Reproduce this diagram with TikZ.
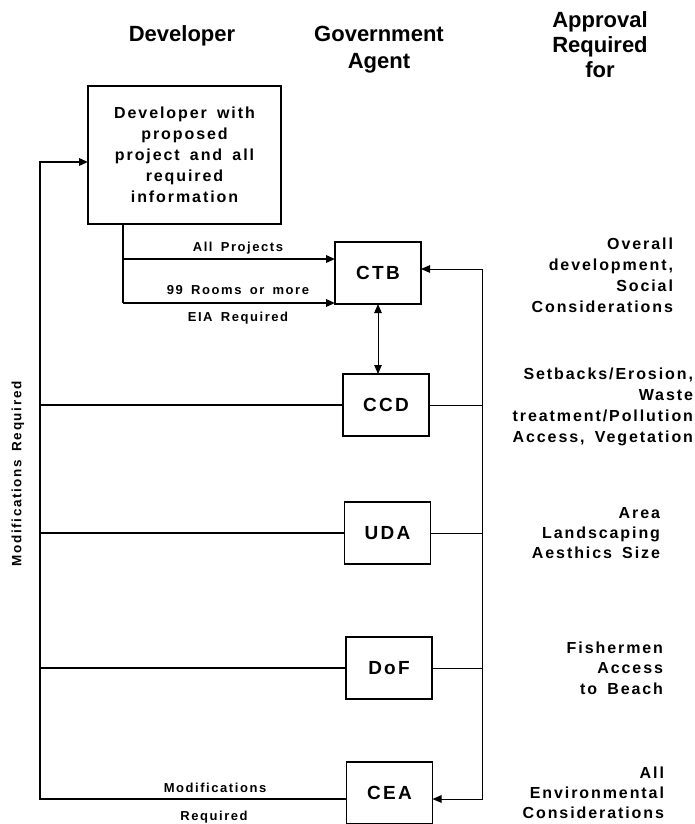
\documentclass[tikz,border=0pt]{standalone}
\usepackage{fontspec}
\setmainfont[LetterSpace=12, WordSpace=1.6]{Liberation Sans}
\newfontfamily\headfont{Liberation Sans}
\usetikzlibrary{positioning, arrows.meta}
\newcommand{\fsz}[2]{\fontsize{#1}{#2}\selectfont\bfseries}

\begin{document}
\begin{tikzpicture}[x=1pt, y=-1pt, node distance=70pt,
    every node/.style={font=\fsz{16}{21}, inner sep=0pt, outer sep=0pt},
    agentbox/.style={draw, line width=1.2pt, minimum width=86pt,
                     minimum height=62pt, font=\fsz{19}{21}},
    thickline/.style={line width=1.8pt},
    thinline/.style={line width=1pt},
    >={Triangle[length=9pt, width=7.5pt]}]
  \useasboundingbox (0,0) rectangle (694,824);
  % column headings
  \node[font=\headfont\fsz{22}{27}] (hdev) at (182,36) {Developer};
  \node[font=\headfont\fsz{22}{27}, align=center] (hgov) at (379,50)
    {Government\\Agent};
  \node[font=\headfont\fsz{22}{25}, align=center] (happr) at (600,45)
    {Approval\\Required\\for};
  % developer and agents
  \node[draw, line width=1.2pt, minimum width=193pt, minimum height=138pt,
        align=center] (dev) at (184.5,155)
    {Developer with\\proposed\\project and all\\required\\information};
  \node[agentbox, below right=18pt and 54pt of dev] (ctb) {CTB};
  \node[agentbox, below=70pt of ctb, xshift=8pt] (ccd) {CCD};
  \node[agentbox, below=66pt of ccd, xshift=1.5pt] (uda) {UDA};
  \node[agentbox, below=73pt of uda, xshift=1.5pt] (dof) {DoF};
  \node[agentbox, below=63pt of dof, xshift=0.5pt] (cea) {CEA};
  % approvals
  \node[anchor=east, align=right] (aprctb) at (673,275)
    {Overall\\development,\\Social\\Considerations};
  \node[anchor=east, align=right] (aprccd) at (693,407)
    {Setbacks/Erosion,\\Waste\\treatment/Pollution\\Access, Vegetation};
  \node[anchor=east, align=right, font=\fsz{16}{20}] (apruda) at (660,533)
    {Area\\Landscaping\\Aesthics Size};
  \node[anchor=east, align=right, font=\fsz{16}{20.5}] (aprdof) at (663,668)
    {Fishermen\\Access\\to Beach};
  \node[anchor=east, align=right, font=\fsz{16}{20}] (aprcea) at (664,793)
    {All\\Environmental\\Considerations};
  % developer to CTB
  \coordinate (fa) at (123,259);
  \coordinate (fb) at (123,303);
  \draw[thickline] (dev.south -| fa) -- (fb);
  \draw[thickline, ->] (fa) -- (fa -| ctb.west)
    node[midway, above=5pt, xshift=9pt, font=\fsz{13}{15}] (lall) {All Projects};
  \draw[thickline, ->] (fb) -- (fb -| ctb.west)
    node[midway, above=8pt, xshift=9pt, font=\fsz{13}{15}] (lrooms) {99 Rooms or more}
    node[midway, below=9pt, xshift=9pt, font=\fsz{13}{15}] (leia) {EIA Required};
  \draw[thinline, <->] (ctb.south) -- (ctb.south |- ccd.north);
  % modifications loop
  \coordinate (ltop) at (40,162);
  \coordinate (rbot) at (482,799);
  \draw[thickline, ->] ([yshift=-6pt]cea.west) -| (ltop) -- (ltop -| dev.west);
  \foreach \ag in {ccd, uda, dof} {
    \draw[thickline] (\ag.west) -- (\ag.west -| ltop);
    \draw[thinline] (\ag.east) -- (\ag.east -| rbot);
  }
  \draw[thinline, <->] ([yshift=4pt]ctb.east) -| (rbot) -- ([yshift=-6pt]cea.east);
  \node[font=\fsz{13}{15}] (lmod) at (215,788) {Modifications};
  \node[font=\fsz{13}{15}] (lreq) at (214,817) {Required};
  \node[rotate=90, font=\fsz{13.5}{16}] (lmodv) at (18,474) {Modifications Required};
\end{tikzpicture}
\end{document}
